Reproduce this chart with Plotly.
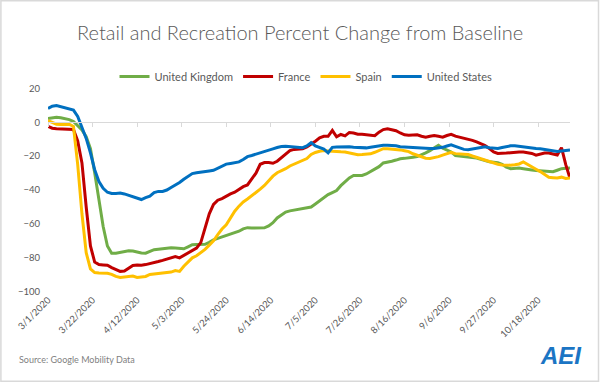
import pandas as pd
import plotly.graph_objects as go

# ---------------- data (every 2 days from 3/1/2020) ----------------
start_date = "2020-03-01"
step = "2D"

united_kingdom = [
    2.2, 2.7, 3.0, 2.7, 2.3, 1.6, 0.5, -2.0, -4.5, -8.5,
    -15.5, -29.8, -45.0, -61.5, -73.0, -77.3, -77.3, -76.8, -76.2, -75.9,
    -76.0, -76.7, -77.2, -77.3, -76.3, -75.2, -74.9, -74.6, -74.3, -74.0,
    -74.2, -74.4, -74.7, -73.5, -72.3, -72.1, -72.0, -72.0, -70.9, -69.4,
    -68.5, -67.7, -66.9, -66.0, -65.1, -64.3, -62.9, -62.2, -62.4, -62.5,
    -62.5, -62.3, -61.2, -59.3, -56.5, -54.7, -53.0, -52.3, -51.8, -51.3,
    -51.0, -50.6, -50.0, -48.2, -46.4, -44.5, -42.7, -41.5, -40.3, -37.4,
    -35.0, -32.8, -31.4, -31.4, -31.4, -30.5, -29.2, -28.0, -26.2, -24.0,
    -23.6, -23.0, -22.3, -21.5, -21.3, -21.1, -20.6, -20.2, -19.3, -18.0,
    -16.7, -15.4, -13.6, -15.3, -16.2, -17.5, -19.7, -19.9, -20.1, -20.4,
    -20.8, -21.1, -21.9, -22.8, -23.3, -23.6, -23.9, -24.8, -26.5, -27.4,
    -27.2, -27.0, -27.4, -28.0, -28.2, -28.4, -28.6, -29.0, -29.4, -29.2,
    -28.3, -27.4, -27.2, -27.0,
]

france = [
    -2.4, -3.5, -3.8, -3.9, -3.9, -3.9, -4.2, -11.0, -24.0, -50.0,
    -73.0, -82.5, -84.0, -84.2, -84.4, -85.8, -87.0, -88.0, -87.8, -86.0,
    -84.5, -84.2, -84.4, -84.0, -83.5, -83.0, -82.2, -81.5, -80.8, -80.0,
    -79.2, -80.0, -78.5, -77.0, -75.6, -74.3, -71.0, -62.5, -54.0, -48.5,
    -46.0, -45.0, -43.5, -42.3, -41.3, -39.5, -38.0, -37.0, -33.5, -30.0,
    -24.8, -23.8, -23.8, -24.2, -23.0, -21.0, -18.8, -16.7, -16.0, -15.8,
    -15.6, -14.5, -13.0, -11.2, -9.2, -8.3, -8.3, -4.8, -8.6, -7.2,
    -8.0, -6.0, -6.3, -7.0, -7.1, -7.3, -7.6, -7.9, -5.8, -4.3,
    -3.8, -4.2, -5.0, -6.3, -7.4, -7.6, -7.4, -7.4, -8.2, -8.8,
    -8.2, -7.8, -8.3, -8.8, -7.8, -7.1, -8.2, -8.8, -9.3, -9.9,
    -10.7, -11.6, -12.8, -13.8, -15.5, -17.5, -18.4, -18.5, -18.2, -18.0,
    -17.6, -17.5, -17.6, -18.0, -18.4, -19.4, -18.8, -18.1, -18.1, -18.5,
    -19.3, -15.0, -25.0, -33.0,
]

spain = [
    1.0, -0.2, -1.1, -1.3, -1.3, -1.1, -2.5, -25.0, -54.0, -77.0,
    -86.5, -88.7, -89.0, -89.1, -89.1, -89.8, -91.0, -91.6, -91.3, -90.9,
    -90.8, -91.6, -91.5, -91.0, -89.8, -89.5, -89.3, -89.2, -88.9, -88.4,
    -87.5, -88.0, -85.0, -82.5, -80.0, -78.8, -77.0, -75.0, -72.5, -70.0,
    -66.3, -63.0, -60.5, -56.5, -52.5, -49.5, -47.0, -45.3, -43.5, -41.5,
    -39.5, -37.3, -34.5, -31.8, -29.8, -28.8, -27.4, -25.8, -24.7, -23.8,
    -22.7, -21.4, -19.0, -17.8, -17.1, -16.7, -16.9, -17.2, -17.3, -17.4,
    -17.5, -17.9, -18.6, -19.1, -19.0, -18.8, -18.6, -17.7, -16.8, -15.6,
    -15.6, -15.7, -15.9, -16.3, -16.8, -17.3, -18.6, -19.5, -20.5, -21.2,
    -21.4, -21.0, -20.3, -19.4, -18.5, -17.8, -18.5, -18.7, -18.7, -19.0,
    -19.9, -20.7, -21.6, -22.5, -23.4, -24.2, -24.8, -25.2, -25.4, -25.3,
    -25.1, -24.6, -23.4, -25.0, -26.2, -27.7, -29.1, -30.9, -32.5, -32.7,
    -32.9, -32.4, -33.2, -32.9,
]

united_states = [
    8.1, 9.5, 9.9, 9.2, 8.5, 7.8, 7.2, 3.5, -2.5, -9.5,
    -18.0, -28.0, -35.0, -39.0, -41.3, -42.0, -42.0, -41.8, -42.3, -43.1,
    -44.0, -45.0, -45.6, -44.5, -43.6, -41.5, -40.8, -40.8, -40.0, -38.5,
    -37.2, -35.5, -33.6, -32.0, -30.3, -29.8, -29.3, -29.0, -28.7, -28.3,
    -27.0, -25.8, -24.7, -24.3, -23.8, -23.4, -22.0, -20.3, -19.6, -18.9,
    -18.0, -17.2, -16.4, -15.7, -14.9, -14.3, -14.2, -14.3, -14.4, -14.8,
    -15.0, -14.0, -12.0, -14.0, -14.9, -15.8, -18.0, -14.8, -14.6, -14.5,
    -14.4, -14.5, -14.7, -14.8, -15.0, -15.1, -14.7, -14.2, -13.7, -13.6,
    -13.6, -13.6, -13.9, -14.4, -14.6, -14.9, -15.0, -15.1, -15.3, -15.4,
    -15.5, -15.5, -15.2, -14.8, -14.0, -13.3, -14.2, -15.2, -16.0, -16.2,
    -15.7, -15.1, -14.6, -14.5, -15.0, -15.4, -15.5, -14.9, -14.3, -13.9,
    -13.8, -14.2, -14.7, -15.1, -15.3, -15.5, -15.6, -16.0, -16.4, -16.8,
    -17.2, -16.9, -16.6, -16.3,
]

series_names = ["United Kingdom", "France", "Spain", "United States"]
series_values = [united_kingdom, france, spain, united_states]
series_colors = ["#70AD47", "#C00000", "#FFC000", "#0070C0"]

tick_dates = ["2020-03-01", "2020-03-22", "2020-04-12", "2020-05-03", "2020-05-24",
              "2020-06-14", "2020-07-05", "2020-07-26", "2020-08-16", "2020-09-06",
              "2020-09-27", "2020-10-18"]
tick_labels = ["3/1/2020", "3/22/2020", "4/12/2020", "5/3/2020", "5/24/2020",
               "6/14/2020", "7/5/2020", "7/26/2020", "8/16/2020", "9/6/2020",
               "9/27/2020", "10/18/2020"]
y_min, y_max, y_step = -100, 20, 20
x_range = ["2020-03-01", "2020-11-02"]

title_text = "Retail and Recreation Percent Change from Baseline"
source_text = "Source: Google Mobility Data"

# ---------------- layout geometry ----------------
W, H = 600, 382
x_dom = [48 / W, 570 / W]
y_dom = [1 - 291.7 / H, 1 - 88.4 / H]
zero_pos = y_dom[0] + (0 - y_min) / (y_max - y_min) * (y_dom[1] - y_dom[0])

FONT = "Lato, 'Noto Sans', sans-serif"
GREY = "#595959"

dates = pd.date_range(start_date, periods=len(united_states), freq=step)

fig = go.Figure()
for name, vals, col in zip(series_names, series_values, series_colors):
    fig.add_trace(go.Scatter(
        x=dates, y=vals, name=name, mode="lines",
        line=dict(color=col, width=3), xaxis="x", yaxis="y",
    ))

fig.update_layout(
    width=W, height=H,
    margin=dict(l=0, r=0, t=0, b=0),
    paper_bgcolor="white", plot_bgcolor="white",
    font=dict(family=FONT, color=GREY),
    showlegend=True,
    legend=dict(
        orientation="h", x=0.51, xanchor="center", y=1 - 76.6 / H, yanchor="middle",
        font=dict(size=11, color=GREY, family=FONT),
        bgcolor="rgba(0,0,0,0)", itemwidth=30, tracegroupgap=0,
    ),
    xaxis=dict(
        domain=x_dom, range=x_range, type="date",
        tickvals=tick_dates, ticktext=tick_labels, tickangle=-45,
        tickfont=dict(size=9.5, color=GREY, family=FONT),
        showgrid=False, zeroline=False, showline=False, ticks="",
        automargin=False, anchor="y",
    ),
    xaxis2=dict(
        domain=x_dom, range=x_range, type="date", overlaying="x",
        anchor="free", position=zero_pos, side="bottom",
        tickvals=tick_dates, showticklabels=False,
        showline=True, linecolor="#D9D9D9", linewidth=1,
        ticks="outside", ticklen=4, tickcolor="#D9D9D9", tickwidth=1,
        showgrid=False, zeroline=False, automargin=False,
    ),
    yaxis=dict(
        domain=y_dom, range=[y_min, y_max], dtick=y_step, tick0=0,
        tickfont=dict(size=9.5, color=GREY, family=FONT),
        showgrid=False, zeroline=False, showline=False, ticks="",
        ticklabelstandoff=7, automargin=False,
    ),
)

# invisible trace on xaxis2 so the overlay axis (zero line with ticks) is rendered
fig.add_trace(go.Scatter(x=[x_range[0]], y=[None], xaxis="x2", yaxis="y",
                         showlegend=False, hoverinfo="skip"))

fig.add_annotation(
    text=title_text, xref="paper", yref="paper", x=0.5, y=1 - 32 / H,
    xanchor="center", yanchor="middle", showarrow=False,
    font=dict(size=20, color=GREY, family=FONT, weight=300),
)
fig.add_annotation(
    text=source_text, xref="paper", yref="paper", x=17 / W, y=1 - 359 / H,
    xanchor="left", yanchor="middle", showarrow=False,
    font=dict(size=9, color="#7F7F7F", family=FONT),
)
fig.add_annotation(
    text="<b><i>AEI</i></b>", xref="paper", yref="paper", x=561 / W, y=1 - 355 / H,
    xanchor="center", yanchor="middle", showarrow=False,
    font=dict(size=24, color="#1B75C4", family="'Liberation Sans', Arial, sans-serif"),
)
fig.add_shape(
    type="rect", xref="paper", yref="paper", x0=0.0015, x1=0.9975, y0=0.002, y1=0.998,
    line=dict(color="#D9D9D9", width=1.5), fillcolor="rgba(0,0,0,0)", layer="below",
)

fig.write_html(
    "out.html",
    config={"displayModeBar": False},
    post_script="document.body.style.margin='0px';document.body.style.overflow='hidden';",
)
